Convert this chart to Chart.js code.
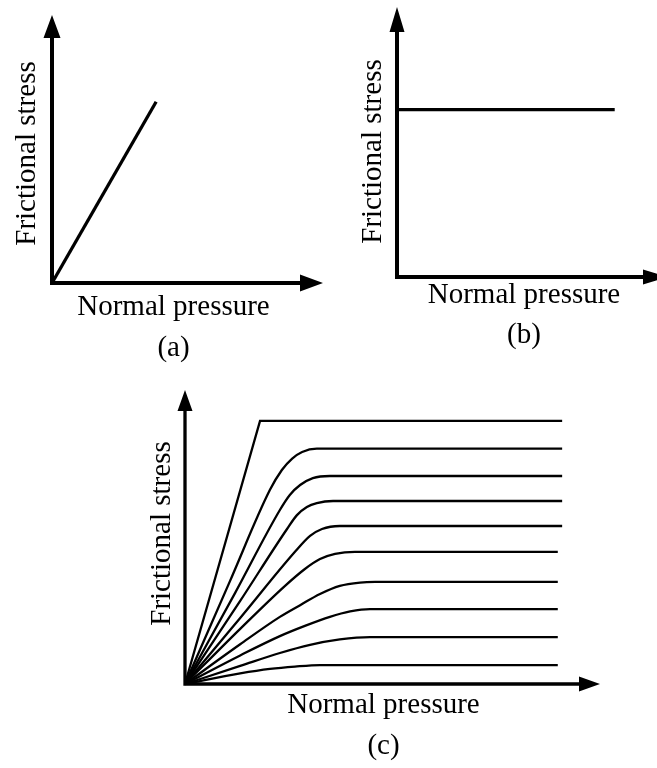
<!DOCTYPE html>
<html>
<head>
<meta charset="utf-8">
<script src="https://cdn.jsdelivr.net/npm/chart.js@4"></script>
<style>
  html, body { margin: 0; padding: 0; background: #fff; }
  body { position: relative; width: 657px; height: 768px; overflow: hidden; }
  canvas { position: absolute; }
</style>
</head>
<body>
<canvas id="chartA" width="330" height="380" style="left:0;top:0"></canvas>
<canvas id="chartB" width="327" height="380" style="left:330px;top:0"></canvas>
<canvas id="chartC" width="537" height="398" style="left:120px;top:370px"></canvas>
<script>
// (a) stress rises in proportion to pressure
const pressureA = [0, 3];
const stressA = [0, 7];

// (b) stress stays the same whatever the pressure
const pressureB = [0, 6];
const stressB = [6, 6];

// (c) family of curves, steepest first; each one levels off
const pressureC = [
  [0, 1.89, 9.50],
  [0, 1.13, 2.14, 2.44, 2.70, 2.95, 3.32, 9.50],
  [0, 1.26, 2.39, 2.64, 2.90, 3.22, 3.65, 9.50],
  [0, 1.39, 2.57, 2.82, 3.07, 3.32, 3.73, 9.50],
  [0, 1.39, 2.77, 3.15, 3.45, 3.90, 9.50],
  [0, 1.39, 2.52, 3.02, 3.40, 3.78, 4.28, 9.39],
  [0, 1.39, 2.39, 2.90, 3.40, 3.90, 4.41, 4.79, 9.39],
  [0, 1.39, 2.39, 3.02, 3.65, 4.16, 4.66, 9.39],
  [0, 1.39, 2.39, 3.15, 3.90, 4.66, 9.39],
  [0, 1.39, 2.14, 2.77, 3.40, 9.39]
];
const stressC = [
  [0, 8.74, 8.74],
  [0, 3.41, 6.45, 7.11, 7.49, 7.71, 7.82, 7.82],
  [0, 3.02, 5.78, 6.28, 6.61, 6.84, 6.91, 6.91],
  [0, 2.76, 5.15, 5.61, 5.88, 6.01, 6.08, 6.08],
  [0, 2.19, 4.39, 4.92, 5.15, 5.25, 5.25],
  [0, 1.83, 3.26, 3.82, 4.15, 4.32, 4.39, 4.39],
  [0, 1.32, 2.23, 2.62, 2.99, 3.26, 3.37, 3.39, 3.39],
  [0, 0.95, 1.59, 1.93, 2.23, 2.41, 2.49, 2.49],
  [0, 0.60, 1.03, 1.30, 1.48, 1.56, 1.56],
  [0, 0.35, 0.50, 0.58, 0.63, 0.63]
];

const xTitle = 'Normal pressure';
const yTitle = 'Frictional stress';
const tags = ['(a)', '(b)', '(c)'];

Chart.defaults.font.family = '"Liberation Serif", "Times New Roman", serif';
Chart.defaults.color = '#000';

// axes are drawn by hand so they can run past the plot area and end in arrowheads
const axisArrows = {
  id: 'axisArrows',
  afterDatasetsDraw(chart, args, opts) {
    const ctx = chart.ctx;
    const {left, right, top, bottom} = chart.chartArea;
    const tipY = top - opts.overTop;
    const tipX = right + opts.overRight;
    const hw = opts.headWidth / 2;
    ctx.save();
    ctx.strokeStyle = '#000';
    ctx.fillStyle = '#000';
    ctx.lineWidth = opts.width;
    ctx.lineJoin = 'miter';
    ctx.beginPath();
    ctx.moveTo(left, tipY + opts.head - 1);
    ctx.lineTo(left, bottom);
    ctx.lineTo(tipX - opts.head + 1, bottom);
    ctx.stroke();
    ctx.beginPath();
    ctx.moveTo(left, tipY);
    ctx.lineTo(left - hw, tipY + opts.head);
    ctx.lineTo(left + hw, tipY + opts.head);
    ctx.closePath();
    ctx.moveTo(tipX, bottom);
    ctx.lineTo(tipX - opts.head, bottom - hw);
    ctx.lineTo(tipX - opts.head, bottom + hw);
    ctx.closePath();
    ctx.fill();
    ctx.restore();
  }
};

function series(xs, ys, width, smooth) {
  return {
    data: xs.map((x, i) => ({x: x, y: ys[i]})),
    borderColor: '#000',
    borderWidth: width,
    pointRadius: 0,
    fill: false,
    clip: false,
    tension: 0,
    cubicInterpolationMode: smooth ? 'monotone' : 'default',
    borderJoinStyle: 'miter'
  };
}

function drawPanel(id, datasets, xMax, yMax, tag, look) {
  const hidden = {
    grid: { display: false, drawTicks: false },
    border: { display: false },
    ticks: { display: false }
  };
  return new Chart(document.getElementById(id), {
    type: 'line',
    data: { datasets: datasets },
    options: {
      responsive: false,
      animation: false,
      devicePixelRatio: 1,
      layout: { padding: look.padding },
      plugins: {
        legend: { display: false },
        tooltip: { enabled: false },
        axisArrows: look.arrows
      },
      scales: {
        x: Object.assign({
          type: 'linear', min: 0, max: xMax,
          title: { display: true, text: [xTitle, tag], font: { size: 29, lineHeight: 1.4 }, padding: look.xPad }
        }, hidden),
        y: Object.assign({
          type: 'linear', min: 0, max: yMax,
          title: { display: true, text: yTitle, font: { size: 29, lineHeight: 1.2 }, padding: look.yPad }
        }, hidden)
      }
    },
    plugins: [axisArrows]
  });
}

drawPanel('chartA', [series(pressureA, stressA, 3.3, false)], 7, 10, tags[0], {
  padding: { left: 5.5, right: 35, top: 24, bottom: 7.8 },
  yPad: { top: 4, bottom: 7.7 },
  xPad: { top: 4, bottom: 4 },
  arrows: { width: 4, overTop: 9, overRight: 28, head: 23, headWidth: 17 }
});

drawPanel('chartB', [series(pressureB, stressB, 3.3, false)], 7, 9, tags[1], {
  padding: { left: 21.8, right: 6, top: 26, bottom: 19.9 },
  yPad: { top: 4, bottom: 6.4 },
  xPad: { top: -2.1, bottom: 4 },
  arrows: { width: 4, overTop: 19, overRight: 17, head: 25, headWidth: 15 }
});

drawPanel('chartC', pressureC.map((xs, i) => series(xs, stressC[i], 2.3, i > 0)), 10, 10, tags[2], {
  padding: { left: 20.8, right: 75, top: 13, bottom: 1.8 },
  yPad: { top: 4, bottom: 5.4 },
  xPad: { top: 1, bottom: 0 },
  arrows: { width: 3.3, overTop: -7, overRight: 18, head: 21, headWidth: 15 }
});
</script>
</body>
</html>
